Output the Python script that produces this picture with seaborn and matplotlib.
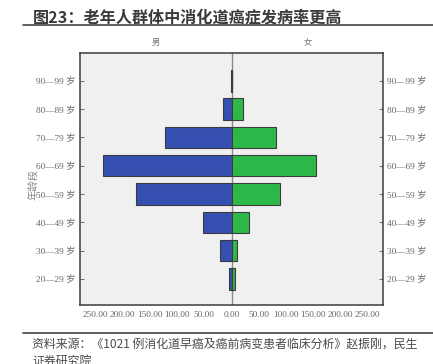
import pandas as pd
import matplotlib
matplotlib.use("Agg")
import matplotlib.pyplot as plt
import seaborn as sns

# age groups, top to bottom
ages = ["90—99 岁", "80—89 岁", "70—79 岁", "60—69 岁",
        "50—59 岁", "40—49 岁", "30—39 岁", "20—29 岁"]
male = [1, 15, 122, 236, 175, 53, 21, 4]
female = [1, 21, 82, 154, 88, 32, 10, 6]
xticks = [-250, -200, -150, -100, -50, 0, 50, 100, 150, 200, 250]

sns.set_style("white")
plt.rcParams["font.family"] = ["Noto Sans CJK SC", "DejaVu Sans"]
serif = ["Liberation Serif", "Noto Sans CJK SC"]

df = pd.DataFrame({
    "age": ages * 2,
    "value": [-v for v in male] + female,
    "sex": ["男"] * len(ages) + ["女"] * len(ages),
})

fig = plt.figure(figsize=(4.33, 3.64), dpi=100)
ax = fig.add_axes([0.1848, 0.1621, 0.7, 0.6923])
ax.set_facecolor("#f0f0f0")

sns.barplot(data=df, x="value", y="age", hue="sex", order=ages,
            hue_order=["男", "女"], palette=["#3550b0", "#2db84a"],
            saturation=1, orient="h", dodge=False, width=0.76,
            edgecolor="#3c3c3c", linewidth=0.8, legend=False, ax=ax)

ax.axvline(0, color="#8a8a8a", lw=1, zorder=0)
ax.set_xlim(-278, 278)
ax.set_ylim(7.92, -0.98)
ax.set_xticks(xticks)
ax.set_xticklabels([f"{abs(t):.2f}" for t in xticks], family=serif,
                   fontsize=6.7, color="#666666")
ax.set_yticks(range(len(ages)))
ax.set_yticklabels(ages, family=serif, fontsize=6.7, color="#666666")
ax.tick_params(axis="y", which="both", left=True, right=True,
               labelleft=True, labelright=True, direction="in",
               length=3, width=0.6, color="#555555", pad=3)
ax.tick_params(axis="x", direction="in", length=3, width=0.6,
               color="#555555", pad=4)
for lbl in ax.get_yticklabels(which="both"):
    lbl.set_family(serif)
ax.yaxis.set_tick_params(labelsize=6.7, labelcolor="#666666")
ax.set_xlabel("")
ax.set_ylabel("")
for s in ax.spines.values():
    s.set_visible(True)
    s.set_color("#3c3c3c")
    s.set_linewidth(1.1)

ax.text(0.25, 1.025, "男", transform=ax.transAxes, ha="center",
        va="bottom", fontsize=6, color="#777777")
ax.text(0.75, 1.025, "女", transform=ax.transAxes, ha="center",
        va="bottom", fontsize=6, color="#777777")
fig.text(33 / 433, 1 - 184 / 364, "年龄段", rotation=90, ha="center",
         va="center", fontsize=7.5, color="#8a8a8a")

# title and source
fig.text(33 / 433, 1 - 17 / 364, "图23：老年人群体中消化道癌症发病率更高",
         fontsize=11.6, fontweight="bold", color="#3a3a3a",
         ha="left", va="center")
fig.add_artist(plt.Line2D([23 / 433, 1], [1 - 25 / 364] * 2,
                          color="#444444", lw=1.2))
fig.add_artist(plt.Line2D([23 / 433, 1], [1 - 333 / 364] * 2,
                          color="#444444", lw=1.2))
fig.text(32 / 433, 1 - 344 / 364,
         "资料来源：《1021 例消化道早癌及癌前病变患者临床分析》赵振刚，民生",
         fontsize=8.6, color="#4a4a4a", ha="left", va="center")
fig.text(32 / 433, 1 - 361 / 364, "证券研究院",
         fontsize=8.6, color="#4a4a4a", ha="left", va="center")

fig.savefig("out.png", dpi=100)
